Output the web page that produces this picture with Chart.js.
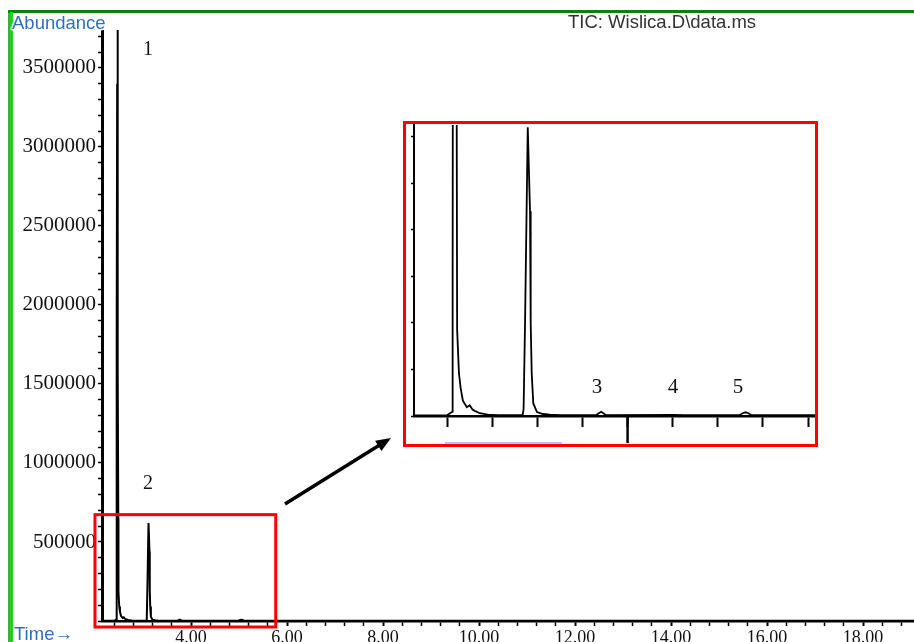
<!DOCTYPE html>
<html><head><meta charset="utf-8">
<script src="https://cdn.jsdelivr.net/npm/chart.js@4/dist/chart.umd.min.js"></script>
<style>
html,body{margin:0;padding:0;background:#fff;overflow:hidden;}
#wrap{position:relative;width:914px;height:642px;background:#fff;}
#main{position:absolute;left:0;top:0;}
#insetBox{position:absolute;left:403px;top:121px;width:415px;height:326px;border:3px solid #ff0000;box-sizing:border-box;background:#fff;}
#inset{position:absolute;left:0;top:0;}
</style></head>
<body>
<div id="wrap">
  <canvas id="main" width="914" height="642"></canvas>
  <div id="insetBox"><canvas id="inset" width="409" height="320"></canvas></div>
</div>
<script>
// ---- data (retention time in min, TIC abundance) ----
const retentionTime = [
  2.10, 2.40, 2.426, 2.445, 2.449, 2.455, 2.462, 2.467, 2.473, 2.479, 2.485, 2.489, 2.505, 2.52, 2.54, 2.575, 2.60, 2.625, 2.645, 2.69, 2.76, 2.85,
  3.00, 3.07, 3.078, 3.091, 3.115, 3.135, 3.141, 3.15, 3.164, 3.197, 3.25, 3.31, 3.40,
  3.50, 3.72, 3.745, 3.765, 3.785, 3.81, 4.40, 4.50,
  4.99, 5.02, 5.045, 5.07, 5.10, 5.50, 6.50, 8.00, 10.00, 12.00, 14.00, 16.00, 18.00, 19.10
];
const abundance = [
  1500, 1500, 6000, 9000, 300000, 1800000, 3400000, 3740000, 3000000, 1600000, 650000, 185000, 92000, 60000, 33000, 19000, 23000, 14000, 11000, 6000, 3000, 1800,
  1800, 2500, 15000, 200000, 620000, 440000, 200000, 92000, 27000, 8600, 4300, 3000, 2000,
  1800, 1800, 6000, 9000, 6000, 1800, 2200, 1800,
  1800, 6000, 8000, 6000, 1800, 1600, 1500, 1500, 1500, 1500, 1500, 1500, 1500, 1500
];
const xTickLabels = ['4.00', '6.00', '8.00', '10.00', '12.00', '14.00', '16.00', '18.00'];
const yTickLabels = ['500000', '1000000', '1500000', '2000000', '2500000', '3000000', '3500000'];
const peakLabels = ['1', '2', '3', '4', '5'];
const chartTitle = 'TIC: Wislica.D\\data.ms';
const yAxisTitle = 'Abundance';
const xAxisTitle = 'Time\u2192';

// ---- helpers ----
const SERIF = "'Liberation Serif','Times New Roman',serif";
const SANS = "'Liberation Sans',Arial,sans-serif";
const points = retentionTime.map((t, i) => ({x: t, y: abundance[i]}));
function range(a, b, step) { const out = []; for (let v = a; v <= b + 1e-9; v += step) out.push(Math.round(v * 1000) / 1000); return out; }
const mainXTicks = range(2.4, 18.8, 0.4);
const mainYTicks = range(0, 3700000, 100000);
const insetXTicks = range(2.4, 5.6, 0.4);
const insetYTicks = range(0, 600000, 100000);
function xLabel(v) { const l = xTickLabels.find(s => Math.abs(parseFloat(s) - v) < 1e-6); return l || ''; }
function yLabel(v) { const l = yTickLabels.find(s => Math.abs(parseFloat(s) - v) < 1e-6); return l || ''; }
function haloText(ctx, text, x, y, font, color, align) {
  ctx.font = font; ctx.textAlign = align || 'left'; ctx.textBaseline = 'alphabetic';
  ctx.lineJoin = 'round'; ctx.lineWidth = 3; ctx.strokeStyle = '#fff';
  ctx.strokeText(text, x, y); ctx.fillStyle = color; ctx.fillText(text, x, y);
}

const mainDecor = {
  id: 'mainDecor',
  afterDraw(chart) {
    const ctx = chart.ctx, xs = chart.scales.x, ys = chart.scales.y;
    ctx.save();
    // green frame
    ctx.strokeStyle = '#0b800b'; ctx.lineWidth = 3;
    ctx.beginPath(); ctx.moveTo(8, 11.5); ctx.lineTo(914, 11.5); ctx.stroke();
    ctx.strokeStyle = '#0a8a0a'; ctx.lineWidth = 1.5;
    ctx.beginPath(); ctx.moveTo(9, 10); ctx.lineTo(9, 642); ctx.stroke();
    ctx.strokeStyle = '#1ed21e'; ctx.lineWidth = 3;
    ctx.beginPath(); ctx.moveTo(11.5, 12); ctx.lineTo(11.5, 642); ctx.stroke();
    // red zoom box
    const l = xs.getPixelForValue(2.0), r = xs.getPixelForValue(5.765);
    const t = ys.getPixelForValue(673000), b = ys.getPixelForValue(-38000);
    ctx.strokeStyle = '#ff0000'; ctx.lineWidth = 3;
    ctx.strokeRect(l, t, r - l, b - t);
    // arrow
    const x1 = 285, y1 = 504, x2 = 391, y2 = 438;
    const ang = Math.atan2(y2 - y1, x2 - x1);
    ctx.strokeStyle = '#000'; ctx.fillStyle = '#000'; ctx.lineWidth = 3.5;
    ctx.beginPath(); ctx.moveTo(x1, y1); ctx.lineTo(x2 - 12 * Math.cos(ang), y2 - 12 * Math.sin(ang)); ctx.stroke();
    ctx.beginPath();
    ctx.moveTo(x2, y2);
    ctx.lineTo(x2 - 15 * Math.cos(ang) + 6 * Math.sin(ang), y2 - 15 * Math.sin(ang) - 6 * Math.cos(ang));
    ctx.lineTo(x2 - 15 * Math.cos(ang) - 6 * Math.sin(ang), y2 - 15 * Math.sin(ang) + 6 * Math.cos(ang));
    ctx.closePath(); ctx.fill();
    // peak numbers
    ctx.fillStyle = '#111'; ctx.font = '20px ' + SERIF; ctx.textAlign = 'center'; ctx.textBaseline = 'alphabetic';
    ctx.fillText(peakLabels[0], xs.getPixelForValue(3.104), ys.getPixelForValue(3582000));
    ctx.fillText(peakLabels[1], xs.getPixelForValue(3.104), ys.getPixelForValue(835000));
    // texts
    haloText(ctx, yAxisTitle, 12, 29, '18.5px ' + SANS, '#2f6fc0');
    haloText(ctx, xAxisTitle, 14, 640, '18.5px ' + SANS, '#2f6fc0');
    haloText(ctx, chartTitle, 568, 28, '18.5px ' + SANS, '#333');
    ctx.restore();
  }
};

new Chart(document.getElementById('main'), {
  type: 'line',
  data: { datasets: [{ data: points, borderColor: '#000', borderWidth: 2, pointRadius: 0, tension: 0, fill: false }] },
  options: {
    responsive: false, animation: false, devicePixelRatio: 1, events: [],
    layout: { padding: { top: 30, left: 0, right: 0, bottom: 0 } },
    plugins: { legend: { display: false }, tooltip: { enabled: false }, title: { display: false } },
    scales: {
      x: {
        type: 'linear', min: 2.146, max: 19.06,
        afterBuildTicks: s => { s.ticks = mainXTicks.map(v => ({value: v})); },
        afterFit: s => { s.height = 21; s.paddingLeft = 0; s.paddingRight = 0; },
        grid: { drawOnChartArea: false, drawTicks: true, tickLength: 5, tickColor: '#000',
                tickWidth: c => (c.tick && xLabel(c.tick.value) ? 2 : 1.5) },
        border: { display: true, color: '#000', width: 2.5 },
        ticks: { autoSkip: false, maxRotation: 0, minRotation: 0, padding: 1, color: '#111',
                 font: { family: SERIF, size: 18 }, callback: v => xLabel(v) }
      },
      y: {
        type: 'linear', min: 0, max: 3740000,
        afterBuildTicks: s => { s.ticks = mainYTicks.map(v => ({value: v})); },
        afterFit: s => { s.width = 102; s.paddingTop = 0; s.paddingBottom = 0; },
        grid: { drawOnChartArea: false, drawTicks: true, tickLength: 4, tickColor: '#000', tickWidth: 1.5 },
        border: { display: true, color: '#000', width: 3 },
        ticks: { autoSkip: false, padding: 2, color: '#111', font: { family: SERIF, size: 21 }, callback: v => yLabel(v) }
      }
    }
  },
  plugins: [mainDecor]
});

const insetDecor = {
  id: 'insetDecor',
  afterDraw(chart) {
    const ctx = chart.ctx, xs = chart.scales.x, ys = chart.scales.y, ca = chart.chartArea;
    ctx.save();
    // long tick at 4.00
    const x4 = xs.getPixelForValue(4.0);
    ctx.strokeStyle = '#000'; ctx.lineWidth = 2.5;
    ctx.beginPath(); ctx.moveTo(x4, ca.bottom); ctx.lineTo(x4, ca.bottom + 27); ctx.stroke();
    // faint line at bottom
    ctx.strokeStyle = '#b8c2f0'; ctx.lineWidth = 2;
    ctx.beginPath(); ctx.moveTo(39, 319); ctx.lineTo(156, 319); ctx.stroke();
    // peak numbers 3,4,5
    ctx.fillStyle = '#111'; ctx.font = '21px ' + SERIF; ctx.textAlign = 'center'; ctx.textBaseline = 'alphabetic';
    const yl = ys.getPixelForValue(49000);
    ctx.fillText(peakLabels[2], xs.getPixelForValue(3.729), yl);
    ctx.fillText(peakLabels[3], xs.getPixelForValue(4.403), yl);
    ctx.fillText(peakLabels[4], xs.getPixelForValue(4.979), yl);
    ctx.restore();
  }
};

new Chart(document.getElementById('inset'), {
  type: 'line',
  data: { datasets: [{ data: points, borderColor: '#000', borderWidth: 1.8, pointRadius: 0, tension: 0, fill: false }] },
  options: {
    responsive: false, animation: false, devicePixelRatio: 1, events: [],
    layout: { padding: { top: 1, left: 0, right: 0, bottom: 0 } },
    plugins: { legend: { display: false }, tooltip: { enabled: false } },
    scales: {
      x: {
        type: 'linear', min: 2.1065, max: 5.6615,
        afterBuildTicks: s => { s.ticks = insetXTicks.map(v => ({value: v})); },
        afterFit: s => { s.height = 28; s.paddingLeft = 0; s.paddingRight = 0; },
        grid: { drawOnChartArea: false, drawTicks: true, tickLength: 11, tickColor: '#000', tickWidth: 2 },
        border: { display: true, color: '#000', width: 2.5 },
        ticks: { display: false, autoSkip: false }
      },
      y: {
        type: 'linear', min: 0, max: 625000,
        afterBuildTicks: s => { s.ticks = insetYTicks.map(v => ({value: v})); },
        afterFit: s => { s.width = 8; s.paddingTop = 0; s.paddingBottom = 0; },
        grid: { drawOnChartArea: false, drawTicks: true, tickLength: 3, tickColor: '#000', tickWidth: 1.5 },
        border: { display: true, color: '#000', width: 2 },
        ticks: { display: false, autoSkip: false }
      }
    }
  },
  plugins: [insetDecor]
});
</script>
</body></html>
